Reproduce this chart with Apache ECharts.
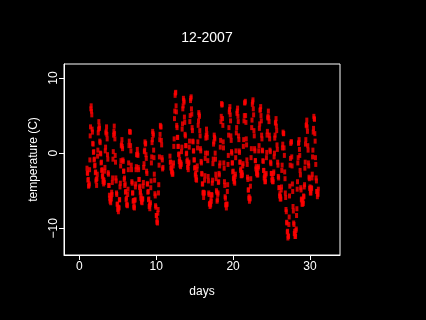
<!DOCTYPE html>
<html>
<head>
<meta charset="utf-8">
<script src="https://cdn.jsdelivr.net/npm/echarts@6/dist/echarts.min.js"></script>
<style>
  html, body { margin: 0; padding: 0; background: #000; }
  #main { width: 426px; height: 320px; }
</style>
</head>
<body>
<div id="main"></div>
<script>
// hourly temperatures (C), December 2007, one array per day (hour 0..23)
const dec01 = [-2.0,-2.6,-2.7,-3.6,-3.5,-4.4,-4.3,-4.1,-2.2,-0.9,2.3,3.5,5.9,6.3,5.6,5.1,3.2,2.8,1.3,1.2,0.1,0.2,-0.9,-0.8];
const dec02 = [-1.7,-1.6,-2.6,-2.5,-3.7,-3.5,-4.3,-3.4,-2.8,-0.4,0.4,2.7,3.2,4.2,3.6,3.3,1.6,1.4,0.0,-0.1,-1.3,-1.2,-2.3,-2.2];
const dec03 = [-3.1,-2.9,-3.8,-3.5,-4.1,-3.6,-3.9,-2.4,-1.9,0.3,0.8,2.7,2.9,3.5,2.5,1.9,-0.2,-0.8,-2.6,-2.8,-4.3,-4.3,-5.6,-6.0];
const dec04 = [-6.4,-6.2,-6.6,-5.7,-6.1,-5.2,-5.5,-3.9,-3.3,-0.8,0.2,2.4,2.9,3.6,2.6,1.9,-0.3,-1.2,-3.3,-3.7,-5.3,-5.5,-6.8,-6.8];
const dec05 = [-7.5,-7.3,-7.8,-7.2,-7.3,-6.2,-6.2,-4.5,-4.0,-1.7,-1.0,1.0,1.2,1.8,0.9,0.6,-0.9,-1.1,-2.4,-2.4,-3.5,-3.3,-4.3,-4.1];
const dec06 = [-5.2,-5.1,-6.2,-6.0,-6.9,-6.8,-7.0,-5.5,-4.8,-2.2,-1.3,1.0,1.6,2.9,2.8,2.8,1.0,0.3,-1.6,-2.2,-3.8,-4.0,-5.3,-5.3];
const dec07 = [-6.4,-6.3,-7.2,-7.0,-7.3,-6.3,-6.2,-4.5,-4.1,-2.2,-1.8,-0.2,-0.2,0.5,-0.1,-0.3,-1.9,-2.2,-3.5,-3.5,-4.6,-4.4,-5.3,-5.1];
const dec08 = [-6.0,-5.7,-6.5,-6.2,-6.6,-6.1,-6.1,-4.4,-3.9,-1.9,-1.4,0.2,0.4,1.5,1.2,1.3,-0.2,-0.7,-2.4,-2.7,-4.1,-4.1,-5.2,-5.1];
const dec09 = [-6.2,-6.1,-7.1,-6.9,-7.4,-6.8,-6.6,-4.6,-3.7,-1.3,-0.5,1.4,1.8,2.9,2.6,2.4,0.4,-0.6,-2.8,-3.6,-5.4,-5.7,-7.0,-7.2];
const dec10 = [-8.3,-8.3,-9.2,-8.9,-9.3,-8.0,-7.5,-5.3,-4.2,-1.6,-0.5,1.8,2.5,3.7,3.5,3.5,1.7,1.1,-0.6,-0.9,-2.1,-1.9];
const dec11 = [null,null,null,null,null,null,null,null,null,null,null,null,null,null,null,null,null,null,null,-0.4,-1.2,-1.2,-2.0,-1.9];
const dec12 = [-2.5,-2.3,-2.8,-2.6,-2.8,-1.7,-1.3,0.9,1.9,4.6,5.6,7.7,8.0,8.1,6.3,5.5,3.7,3.4,2.1,2.1,0.9,0.9,-0.2,-0.1];
const dec13 = [-1.1,-0.8,-1.6,-1.2,-1.8,-1.3,-1.5,0.2,0.8,3.2,3.9,5.9,6.3,7.3,7.0,6.8,4.8,4.1,2.5,2.3,1.0,1.0,-0.1,0.0];
const dec14 = [-1.1,-0.9,-1.9,-1.6,-2.2,-1.4,-1.2,0.8,1.6,4.2,5.0,7.0,7.3,7.5,5.9,5.2,3.4,3.0,1.6,1.5,0.3,0.3,-0.9,-0.9];
const dec15 = [-2.0,-1.9,-2.9,-2.7,-3.5,-3.2,-3.6,-2.2,-1.7,0.7,1.5,3.7,4.3,5.4,5.1,4.9,3.0,2.3,0.6,0.3,-1.1,-1.3,-2.7,-2.8];
const dec16 = [-4.1,-4.1,-5.3,-5.2,-5.9,-5.3,-5.3,-3.6,-3.0,-0.7,0.0,2.0,2.4,3.2,2.6,2.1,0.0,-1.0,-3.1,-3.7,-5.3,-5.5,-6.8,-6.7];
const dec17 = [-7.1,-6.6,-6.9,-6.0,-6.4,-5.5,-5.6,-4.0,-3.6,-1.4,-0.8,1.2,1.5,2.4,2.1,1.9,0.0,-0.8,-2.8,-3.4,-5.0,-5.2,-6.4,-6.2];
const dec18 = [-5.5,-5.3,-3.9,-3.8,-2.7,-2.9,-1.7,-1.3,0.8,1.7,4.2,4.9,6.6,6.4,6.5,4.6,3.7,1.5,0.7,-1.3,-2.0,-3.8,-4.3,-5.8];
const dec19 = [-6.0,-6.9,-6.8,-7.3,-6.8,-6.8,-5.1,-4.2,-1.5,-0.3,2.4,3.4,5.5,5.8,6.2,5.1,4.3,2.3,1.7,0.2,0.0,-1.3,-1.3,-2.5];
const dec20 = [-2.4,-3.4,-3.2,-3.8,-3.7,-4.0,-3.1,-2.8,-0.6,0.3,2.7,3.4,5.3,5.6,6.0,4.9,4.2,2.3,1.8,0.3,0.1,-1.2,-1.2,-2.3];
const dec21 = [-2.1,-3.0,-2.6,-3.0,-2.6,-2.9,-1.7,-1.4,0.9,1.8,4.3,5.0,6.7,6.7,6.9,5.0,4.1,1.9,1.1,-0.9,-1.5,-3.2,-3.5,-4.9];
const dec22 = [-4.9,-6.0,-5.8,-6.4,-6.0,-6.1,-4.4,-3.4,-0.6,0.6,3.4,4.4,6.5,6.8,7.1,5.9,5.1,3.0,2.3,0.6,0.3,-1.0,-1.0,-2.1];
const dec23 = [-1.8,-2.7,-2.3,-2.9,-2.6,-2.9,-2.0,-1.8,0.3,1.0,3.3,3.9,5.7,5.8,6.2,5.0,4.3,2.4,1.9,0.4,0.3,-1.0,-1.1,-2.3];
const dec24 = [-2.3,-3.3,-3.0,-3.8,-3.5,-3.8,-2.9,-2.7,-0.6,0.1,2.4,2.9,4.7,4.9,5.6,4.7,4.2,2.4,1.9,0.4,0.2,-1.2,-1.4,-2.7];
const dec25 = [-2.7,-3.6,-3.2,-3.8,-3.5,-3.8,-2.7,-2.5,-0.5,0.0,2.0,2.4,4.0,4.1,4.6,3.6,3.0,1.1,0.5,-1.2,-1.6,-3.1,-3.3,-4.6];
const dec26 = [-4.6,-5.7,-5.4,-6.1,-5.8,-6.1,-4.9,-4.5,-2.3,-1.6,0.7,1.2,2.8,2.6,2.6,0.7,-0.3,-2.5,-3.4,-5.3,-5.9,-7.5,-7.8,-9.2];
const dec27 = [-9.3,-10.5,-10.4,-11.3,-11.0,-11.1,-9.5,-8.5,-5.7,-4.4,-1.6,-0.7,1.3,1.5,1.5,-0.5,-1.7,-4.1,-5.1,-7.1,-7.7,-9.3,-9.5,-10.7];
const dec28 = [-10.4,-11.1,-10.8,-11.1,-10.3,-10.1,-8.3,-7.4,-4.8,-3.8,-1.3,-0.6,1.3,1.4,1.8,0.5,-0.3,-2.3,-2.9,-4.6,-4.9,-6.2,-6.1,-6.8];
const dec29 = [-6.3,-6.8,-6.4,-6.7,-5.7,-5.8,-4.5,-4.2,-2.0,-1.2,1.2,1.8,3.7,3.8,4.4,3.5,2.9,1.0,0.4,-1.3,-1.7,-3.2,-3.4,-4.7];
const dec30 = [-4.5,-5.3,-5.0,-5.3,-4.6,-4.7,-3.3,-2.8,-0.5,0.4,2.8,3.3,4.9,4.6,4.5,2.6,1.6,-0.6,-1.5,-3.3,-3.7,-5.1,-5.1,-5.8];
const dec31 = [-5.4,-5.5,-4.8];

const days = [dec01,dec02,dec03,dec04,dec05,dec06,dec07,dec08,dec09,dec10,dec11,dec12,dec13,dec14,dec15,dec16,
  dec17,dec18,dec19,dec20,dec21,dec22,dec23,dec24,dec25,dec26,dec27,dec28,dec29,dec30,dec31];

const xTicks = [0, 10, 20, 30];
const yTicks = [-10, 0, 10];

const points = [];
days.forEach((hours, i) => {
  hours.forEach((t, h) => {
    if (t !== null) points.push([i + 1 + h / 24, t]);
  });
});

const chart = echarts.init(document.getElementById("main"));
const font = "Liberation Sans";
const minus = (v) => String(v).replace("-", "\u2212");

chart.setOption({
  backgroundColor: "#000",
  animation: false,
  title: {
    text: "12-2007",
    left: 202,
    top: 26,
    textAlign: "center",
    textStyle: { color: "#fff", fontSize: 14, fontWeight: "normal", fontFamily: font },
  },
  grid: {
    left: 64, top: 64, width: 276, height: 191,
    show: true, borderColor: "#fff", borderWidth: 1, backgroundColor: "transparent",
  },
  xAxis: {
    type: "value",
    min: -1.99, max: 33.9,
    name: "days", nameLocation: "middle", nameGap: 31,
    nameTextStyle: { color: "#fff", fontSize: 12, fontFamily: font },
    axisLine: { show: true, onZero: false, lineStyle: { color: "#fff", width: 1 } },
    axisTick: { show: true, length: 5, customValues: xTicks, lineStyle: { color: "#fff" } },
    axisLabel: { color: "#fff", fontSize: 12, fontFamily: font, margin: 6, customValues: xTicks, formatter: minus },
    splitLine: { show: false },
  },
  yAxis: {
    type: "value",
    min: -13.56, max: 11.87,
    name: "temperature (C)", nameLocation: "middle", nameGap: 14, nameRotate: 90,
    nameTextStyle: { color: "#fff", fontSize: 12, fontFamily: font },
    axisLine: { show: true, onZero: false, lineStyle: { color: "#fff", width: 1 } },
    axisTick: { show: true, length: 5, customValues: yTicks, lineStyle: { color: "#fff" } },
    axisLabel: { color: "#fff", fontSize: 12, fontFamily: font, margin: 4, rotate: 90, customValues: yTicks, formatter: minus },
    splitLine: { show: false },
  },
  series: [
    {
      type: "scatter",
      data: points,
      symbol: "rect",
      symbolSize: [3, 5],
      itemStyle: { color: "#ff0000" },
    },
  ],
});
</script>
</body>
</html>
